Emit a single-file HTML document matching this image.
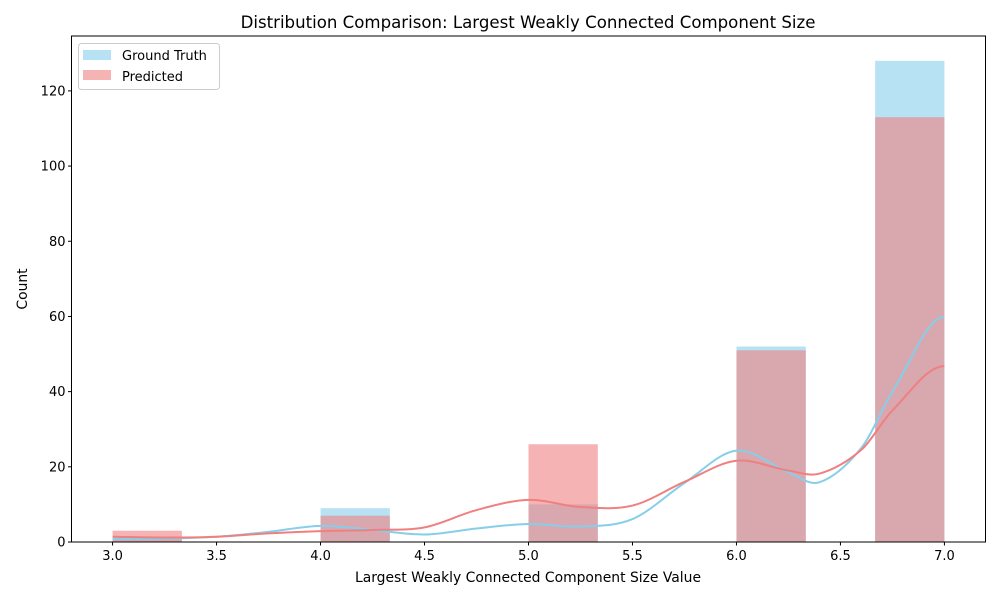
<!DOCTYPE html>
<html><head><meta charset="utf-8"><style>
body{margin:0;background:#fff;}
svg{display:block;font-family:"DejaVu Sans","Liberation Sans",sans-serif;}
</style></head><body>
<svg id="chart" width="1000" height="600" xmlns="http://www.w3.org/2000/svg">
<rect x="0" y="0" width="1000" height="600" fill="#fff"/>
<text x="528" y="28" font-size="16.6" text-anchor="middle">Distribution Comparison: Largest Weakly Connected Component Size</text>
<g id="bars"></g>
<g id="lines"></g>
<g id="axes"></g>
<text x="528" y="582" font-size="13.9" text-anchor="middle">Largest Weakly Connected Component Size Value</text>
<text transform="translate(27,289) rotate(-90)" font-size="13.9" text-anchor="middle">Count</text>
<g>
<rect x="78.5" y="43.5" width="141" height="46" rx="3" fill="#fff" fill-opacity="0.8" stroke="#ccc"/>
<rect x="83" y="50" width="28" height="10" fill="#87CEEB" fill-opacity="0.6"/>
<text x="122" y="60" font-size="13">Ground Truth</text>
<rect x="83" y="70" width="28" height="10" fill="#F08080" fill-opacity="0.6"/>
<text x="122" y="81" font-size="13">Predicted</text>
</g>
</svg>
<script>
const binStarts = [3.0, 4.0, 5.0, 6.0, 6.6667];
const gtCounts = [1, 9, 10, 52, 128];
const predCounts = [3, 7, 26, 51, 113];
const binWidth = 4/12;
const kdeX = [3,3.25,3.5,3.75,4,4.25,4.5,4.75,5,5.25,5.5,5.75,6,6.25,6.4,6.6,6.75,7];
const gtKde = [0.8,0.9,1.4,2.7,4.3,3.2,2.0,3.6,4.8,4.1,6.1,15.7,24.3,18.5,15.9,25,40,59.9];
const predKde = [1.4,1.2,1.4,2.3,2.9,3.2,3.9,8.5,11.2,9.3,9.7,16,21.6,19,18.2,24.5,35,46.8];
const xTicks = [3.0,3.5,4.0,4.5,5.0,5.5,6.0,6.5,7.0];
const yTicks = [0,20,40,60,80,100,120];

const L=71.5,R=985.5,T=36,B=542;
const X0=2.8025,X1=7.1975,Y1=134.6;
const sx=v=>L+(v-X0)/(X1-X0)*(R-L);
const sy=v=>B-v/Y1*(B-T);
const NS="http://www.w3.org/2000/svg";
function mk(tag,attrs,parent){const e=document.createElementNS(NS,tag);for(const k in attrs)e.setAttribute(k,attrs[k]);parent.appendChild(e);return e;}
const bars=document.getElementById('bars'),lines=document.getElementById('lines'),axes=document.getElementById('axes');
function drawBars(counts,color,name){
  counts.forEach((c,i)=>{
    const x=sx(binStarts[i]),w=sx(binStarts[i]+binWidth)-x;
    const r=mk('rect',{x:x,y:sy(c),width:w,height:B-sy(c),fill:color,'fill-opacity':0.6},bars);
    
    
  });
}
drawBars(gtCounts,'#87CEEB','ground-truth');
drawBars(predCounts,'#F08080','predicted');
function curve(xs,ys){
  const n=xs.length,m=[];
  for(let i=0;i<n;i++){
    if(i==0)m.push((ys[1]-ys[0])/(xs[1]-xs[0]));
    else if(i==n-1)m.push(0);
    else m.push((ys[i+1]-ys[i-1])/(xs[i+1]-xs[i-1]));
  }
  let d='M'+sx(xs[0])+','+sy(ys[0]);
  for(let i=0;i<n-1;i++){
    const h=xs[i+1]-xs[i];
    d+=' C'+sx(xs[i]+h/3)+','+sy(ys[i]+m[i]*h/3)+' '+sx(xs[i+1]-h/3)+','+sy(ys[i+1]-m[i+1]*h/3)+' '+sx(xs[i+1])+','+sy(ys[i+1]);
  }
  return d;
}
const p1=mk('path',{d:curve(kdeX,gtKde),fill:'none',stroke:'#87CEEB','stroke-width':2},lines);


const p2=mk('path',{d:curve(kdeX,predKde),fill:'none',stroke:'#F08080','stroke-width':2},lines);


const frame=mk('rect',{x:L,y:T,width:R-L,height:B-T,fill:'none',stroke:'#000','stroke-width':1},axes);


xTicks.forEach(v=>{
  const x=sx(v);
  mk('line',{x1:x,x2:x,y1:B,y2:B+3.5,stroke:'#000'},axes);
  const t=mk('text',{x:x,y:B+18,'font-size':13,'text-anchor':'middle'},axes);
  t.textContent=v.toFixed(1);
  
  
});
yTicks.forEach(v=>{
  const y=sy(v);
  mk('line',{x1:L-3.5,x2:L,y1:y,y2:y,stroke:'#000'},axes);
  const t=mk('text',{x:L-6,y:y+4.5,'font-size':13,'text-anchor':'end'},axes);
  t.textContent=v;
  
  
});
</script>
</body></html>
